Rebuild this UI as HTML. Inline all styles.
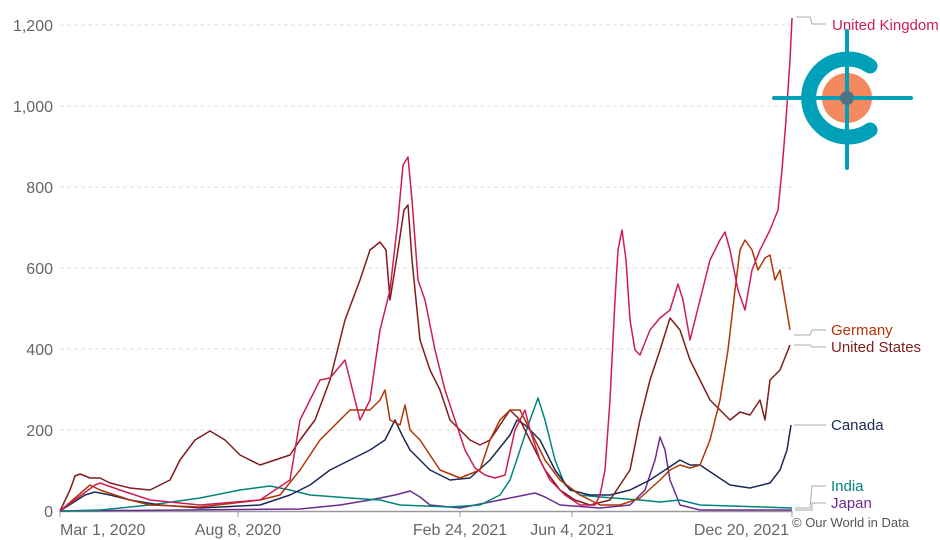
<!DOCTYPE html>
<html><head><meta charset="utf-8"><style>
body{margin:0;background:#fff;}
svg{display:block;font-family:"Liberation Sans",sans-serif;}
</style></head><body>
<svg width="940" height="540" viewBox="0 0 940 540">
<g stroke="#ddd" stroke-dasharray="4,3" stroke-width="1">
<line x1="60" x2="792" y1="25" y2="25"/><line x1="60" x2="792" y1="106" y2="106"/><line x1="60" x2="792" y1="187" y2="187"/><line x1="60" x2="792" y1="268" y2="268"/><line x1="60" x2="792" y1="349" y2="349"/><line x1="60" x2="792" y1="430" y2="430"/>
</g>
<g fill="#666" font-size="16" text-anchor="end">
<text x="53" y="31">1,200</text><text x="53" y="112">1,000</text><text x="53" y="193">800</text><text x="53" y="274">600</text><text x="53" y="355">400</text><text x="53" y="436">200</text><text x="53" y="517">0</text>
</g>
<line x1="60" x2="792" y1="511.5" y2="511.5" stroke="#999" stroke-width="1.5"/>
<g stroke="#999"><line x1="60" x2="60" y1="511" y2="517"/><line x1="238" x2="238" y1="511" y2="517"/><line x1="460" x2="460" y1="511" y2="517"/><line x1="572" x2="572" y1="511" y2="517"/><line x1="792" x2="792" y1="511" y2="517"/></g>
<g fill="#666" font-size="16">
<text x="60" y="535">Mar 1, 2020</text><text x="238" y="535" text-anchor="middle">Aug 8, 2020</text><text x="460" y="535" text-anchor="middle">Feb 24, 2021</text><text x="572" y="535" text-anchor="middle">Jun 4, 2021</text><text x="789" y="535" text-anchor="end">Dec 20, 2021</text>
</g>
<text x="792" y="527" font-size="13" fill="#555">© Our World in Data</text>
<g fill="none" stroke-width="1.5" stroke-linejoin="round">
<polyline stroke="#6a2c91" points="60,511 300,509 340,505 370,500 395,495 410,491 420,497 430,505 460,508 490,502 520,496 535,493 545,497 560,505 600,508 630,505 645,490 655,460 660,437 665,450 670,480 680,505 700,510 792,510"/>
<polyline stroke="#00847e" points="60,511 100,510 150,505 200,498 240,490 270,486 290,490 310,495 350,498 380,500 400,505 450,507 480,505 500,495 510,480 520,450 530,420 538,398 545,420 555,460 565,485 580,495 600,497 640,500 660,502 680,500 700,505 792,508"/>
<polyline stroke="#1b2a55" points="60,511 85,495 95,492 110,495 130,500 160,505 200,508 260,505 290,495 310,485 330,470 350,460 370,450 385,440 395,420 402,435 410,450 420,460 430,470 450,480 470,478 490,460 510,435 517,420 525,425 540,440 555,470 570,490 590,495 610,495 630,490 650,480 665,470 680,460 690,465 700,465 715,475 730,485 750,488 770,483 780,470 787,450 791,425"/>
<polyline stroke="#7f1c1c" points="60,511 70,490 75,476 80,474 90,478 100,478 110,483 130,488 150,490 170,480 180,460 195,440 210,431 225,440 240,455 260,465 275,460 290,455 300,440 315,420 330,380 345,320 360,280 370,250 380,242 386,250 390,300 398,250 404,210 408,205 412,260 420,340 430,370 440,390 450,420 460,430 470,440 480,445 490,440 500,425 510,410 520,420 530,440 545,470 560,490 575,500 590,505 610,500 630,470 640,420 650,380 660,350 670,318 680,330 690,360 700,380 710,400 720,410 730,420 740,412 750,415 760,400 765,420 770,380 780,370 790,345"/>
<polyline stroke="#b13507" points="60,511 90,485 100,490 130,500 150,505 200,507 260,500 280,495 300,470 320,440 340,420 350,410 370,410 380,400 385,390 390,420 400,425 405,405 410,430 420,440 440,470 460,478 480,470 490,440 500,420 510,410 520,410 530,430 545,460 560,480 580,495 600,505 620,505 640,498 660,480 670,470 680,465 690,468 700,465 710,440 720,400 728,350 735,290 740,250 745,240 752,250 758,270 765,258 770,255 775,280 780,270 785,300 790,330"/>
<polyline stroke="#ce1d55" points="60,511 95,485 100,483 120,490 150,500 200,505 260,500 290,480 300,420 310,400 320,380 330,378 345,360 350,380 360,420 370,400 380,330 390,290 398,220 403,165 408,157 412,200 418,280 425,300 435,350 445,390 455,420 465,450 475,468 485,475 495,478 505,475 515,430 520,420 525,410 530,430 540,460 550,480 565,495 580,505 595,505 600,495 605,470 610,400 615,300 618,250 622,230 626,260 630,320 635,350 640,355 650,330 660,318 670,310 678,284 683,300 690,340 700,300 710,260 720,240 725,232 730,250 738,290 745,310 752,270 760,250 770,230 778,210 782,170 786,120 790,60 792,18"/>
</g>
<g fill="none" stroke="#aaa" stroke-width="1">
<polyline points="796,17 810,17 812,24 826,24"/>
<polyline points="794,335 810,335 812,330 826,330"/>
<polyline points="794,345 810,345 812,347 826,347"/>
<polyline points="794,425 826,425"/>
<polyline points="795,508 810,508 812,486 826,486"/>
<polyline points="795,510 812,510 812,503 826,503"/>
</g>
<g font-size="15">
<text x="832" y="30" fill="#ce1d55">United Kingdom</text>
<text x="831" y="335" fill="#b13507">Germany</text>
<text x="831" y="352" fill="#7f1c1c">United States</text>
<text x="831" y="430" fill="#1b2a55">Canada</text>
<text x="831" y="491" fill="#00847e">India</text>
<text x="831" y="508" fill="#6a2c91">Japan</text>
</g>
<g>
<circle cx="847" cy="98" r="25" fill="#f4895f"/>
<path d="M870,66 A39,39 0 1,0 870,130" fill="none" stroke="#00a0b8" stroke-width="15" stroke-linecap="round"/>
<line x1="847" y1="31" x2="847" y2="168" stroke="#00a0b8" stroke-width="4" stroke-linecap="round"/>
<line x1="774" y1="98" x2="911" y2="98" stroke="#00a0b8" stroke-width="4" stroke-linecap="round"/>
<circle cx="847" cy="98" r="7" fill="#4a7588"/>
</g>
</svg>
</body></html>
